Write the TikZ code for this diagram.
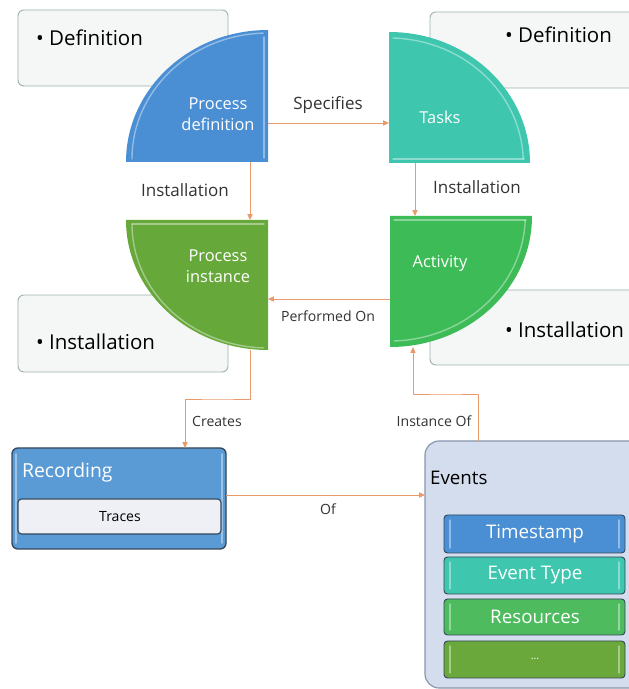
\documentclass[tikz,border=0pt]{standalone}
\usepackage{fontspec}
\setmainfont{Open Sans}
\usetikzlibrary{arrows.meta, calc}

\definecolor{procblue}{HTML}{4A8FD4}
\definecolor{taskteal}{HTML}{3EC6AE}
\definecolor{instgreen}{HTML}{66A83A}
\definecolor{actgreen}{HTML}{3CBB57}
\definecolor{boxfill}{HTML}{F5F6F6}
\definecolor{boxline}{HTML}{9DB2AA}
\definecolor{linkorange}{HTML}{E89A6C}
\definecolor{recblue}{HTML}{5B9BD5}
\definecolor{tracefill}{HTML}{EEF0F6}
\definecolor{evfill}{HTML}{D3DDEE}
\definecolor{evline}{HTML}{8796AC}
\definecolor{resgreen}{HTML}{4DBB5E}
\definecolor{dotgreen}{HTML}{6BA83C}
\definecolor{darkline}{HTML}{34465A}

\begin{document}
\begin{tikzpicture}[line cap=round,line join=round,>={Triangle[length=5pt,width=4.5pt]},x=0.03cm,y=0.03cm,
  notebox/.style={draw=boxline, fill=boxfill, line width=0.8pt, rounded corners=5pt},
  link/.style={draw=linkorange, line width=0.6pt, ->, line cap=butt},
  linklabel/.style={text=black!80, font=\fontsize{14.5}{17}\selectfont},
  smalllabel/.style={text=black!80, font=\fontsize{12}{14}\selectfont},
  notetext/.style={anchor=west, font=\fontsize{17.5}{20}\selectfont},
  quartext/.style={text=white, align=center, font=\fontsize{14}{16}\selectfont},
  bevel/.style={draw=white, opacity=0.4, line width=1.2pt},
  itembox/.style={draw=darkline, line width=0.8pt, rounded corners=3pt},
  itemtext/.style={text=white, font=\fontsize{16}{18}\selectfont}]
\clip (0,0) rectangle (629,689);

% note boxes behind the quarters
\draw[notebox] (18,603) rectangle (228,679);
\draw[notebox] (430,601) rectangle (650,677);
\draw[notebox] (18,317) rectangle (228,394);
\draw[notebox] (430,324) rectangle (650,399);

\node[notetext] (defL) at (32,651) {• Definition};
\node[notetext] (defR) at (501,654) {• Definition};
\node[notetext] (instL) at (32,347) {• Installation};
\node[notetext] (instR) at (501,359) {• Installation};

% quarters
\fill[procblue] (268,527) -- (126,527) arc[start angle=180, end angle=90, x radius=142, y radius=132] -- cycle;
\draw[bevel] (132,530) arc[start angle=180, end angle=92, x radius=136, y radius=126];
\draw[bevel] (264,531) -- (264,652);

\fill[taskteal] (389,526) -- (389,657) arc[start angle=90, end angle=0, x radius=141, y radius=131] -- cycle;
\draw[bevel] (393,651) arc[start angle=88, end angle=2, x radius=135, y radius=125];
\draw[bevel] (393,530) -- (524,530);

\fill[instgreen] (268,469) -- (126,469) arc[start angle=180, end angle=270, x radius=142, y radius=130] -- cycle;
\draw[bevel] (132,465) arc[start angle=180, end angle=268, x radius=136, y radius=124];
\draw[bevel] (132,465) -- (264,465);

\fill[actgreen] (390,473) -- (390,342) arc[start angle=270, end angle=360, x radius=142, y radius=131] -- cycle;
\draw[bevel] (394,348) arc[start angle=272, end angle=358, x radius=136, y radius=125];
\draw[bevel] (394,469) -- (526,469);

\node[quartext] (pd) at (218,575) {Process\\[2pt]definition};
\node[quartext] (ta) at (440,572) {Tasks};
\node[quartext] (pi) at (218,423) {Process\\[2pt]instance};
\node[quartext] (ac) at (440,426) {Activity};

% recording
\draw[itembox, fill=recblue, line width=1.2pt, rounded corners=5pt] (12,140) rectangle (226,241);
\draw[bevel] (16,146) -- (16,235);
\draw[bevel] (222,146) -- (222,235);
\node[anchor=west, text=white, font=\fontsize{16.5}{18}\selectfont] (rec) at (18,217) {Recording};
\draw[itembox, fill=tracefill, line width=1pt] (18,155) rectangle (221,190);
\node[font=\fontsize{12}{14}\selectfont] (tr) at (120,172) {Traces};

% events
\draw[draw=evline, fill=evfill, line width=1pt, rounded corners=12pt] (425,1) rectangle (650,248);
\node[anchor=west, font=\fontsize{16}{18}\selectfont] (ev) at (426,211) {Events};
\foreach \yb/\yt/\col in {136/174/procblue, 95/132/taskteal, 54/90/resgreen, 11/48/dotgreen}{
  \draw[itembox, fill=\col] (444,\yb) rectangle (625,\yt);
  \draw[bevel] (450,\yb+5) -- (450,\yt-5);
  \draw[bevel] (619,\yb+5) -- (619,\yt-5);
}
\node[itemtext] (ts) at (535,155) {Timestamp};
\node[itemtext] (et) at (535,114) {Event Type};
\node[itemtext] (rs) at (535,72) {Resources};
\node[itemtext, font=\fontsize{9}{10}\selectfont] (more) at (535,30) {...};

% connector ends
\coordinate (pdE) at (268,566);
\coordinate (taW) at (389,566);
\coordinate (pdS) at (250,527);
\coordinate (piN) at (250,469);
\coordinate (taS) at (415,526);
\coordinate (acN) at (415,473);
\coordinate (acW) at (390,390);
\coordinate (piE) at (268,390);
\coordinate (piS) at (250,339);
\coordinate (recN) at (185,241);
\coordinate (evN) at (478,248);
\coordinate (acS) at (413,342);
\coordinate (recE) at (226,194);
\coordinate (evW) at (425,194);

\draw[link] (pdE) -- (taW);
\draw[link] (pdS) -- (piN);
\draw[link] (taS) -- (acN);
\draw[link] (acW) -- (piE);
\draw[link] (piS) |- ($(piS)!0.5!(recN)$) -| (recN);
\draw[link] (evN) |- ($(evN)!0.5!(acS)$) -| (acS);
\draw[link] (recE) -- (evW);

\node[linklabel] (lspec) at (328,584) {Specifies};
\node[linklabel] (linst1) at (185,499) {Installation};
\node[linklabel] (linst2) at (477,502) {Installation};
\node[smalllabel] (lperf) at (328,373) {Performed On};
\node[smalllabel] (lcre) at (217,268) {Creates};
\node[smalllabel] (linof) at (434,268) {Instance Of};
\node[smalllabel] (lof) at (328,180) {Of};
\end{tikzpicture}
\end{document}
